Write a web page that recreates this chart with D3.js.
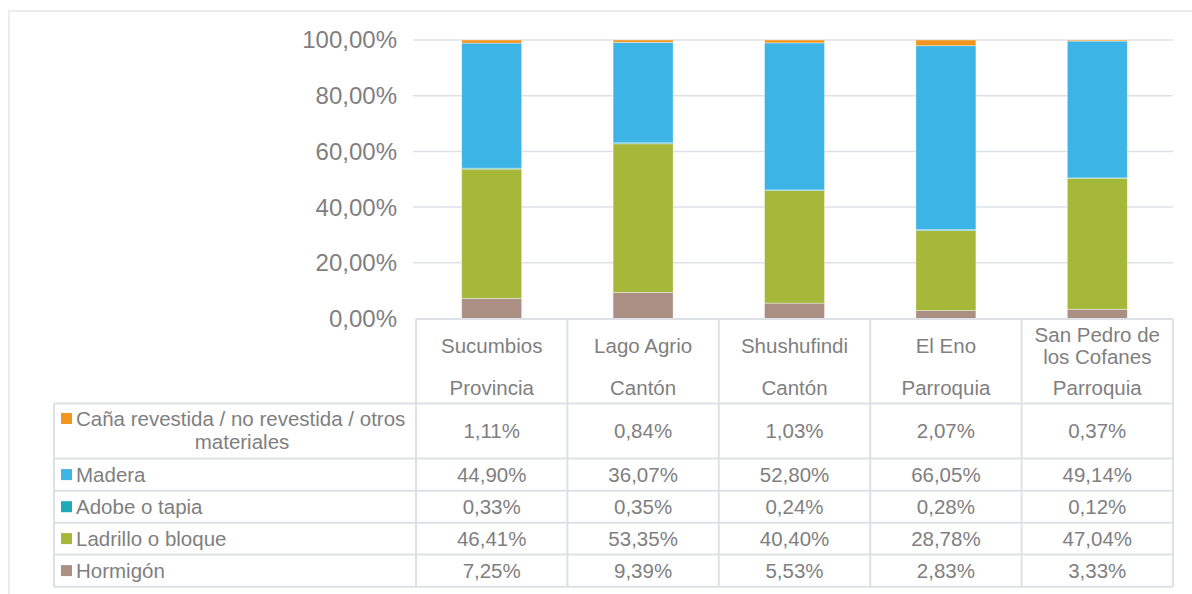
<!DOCTYPE html>
<html><head><meta charset="utf-8">
<script src="https://cdn.jsdelivr.net/npm/d3@7"></script>
<style>
html,body{margin:0;padding:0;background:#fff;}
svg{display:block;font-family:"Liberation Sans",Arial,sans-serif;}
</style></head>
<body>
<svg id="chart" width="1192" height="594"></svg>
<script>
const categories = [["Sucumbios"],["Lago Agrio"],["Shushufindi"],["El Eno"],["San Pedro de","los Cofanes"]];
const subcategories = ["Provincia","Cantón","Cantón","Parroquia","Parroquia"];
const seriesNames = ["Hormigón","Ladrillo o bloque","Adobe o tapia","Madera","Caña revestida / no revestida / otros materiales"];
const hormigon = [7.25, 9.39, 5.53, 2.83, 3.33];
const ladrillo = [46.41, 53.35, 40.40, 28.78, 47.04];
const adobe = [0.33, 0.35, 0.24, 0.28, 0.12];
const madera = [44.90, 36.07, 52.80, 66.05, 49.14];
const cana = [1.11, 0.84, 1.03, 2.07, 0.37];
const yTicks = [0, 20, 40, 60, 80, 100];
const colors = ["#AB8F84","#A6B83A","#1FAAB5","#3DB4E6","#F3961F"];

const series = [hormigon, ladrillo, adobe, madera, cana];
const svg = d3.select("#chart");
const textColor = "#7f7f7f";
const lineColor = "#dde1e6";
const tfs = 20.5;

// outer border
svg.append("rect").attr("x",9).attr("y",11).attr("width",1200).attr("height",600)
  .attr("fill","none").attr("stroke","#dfe2e5").attr("stroke-width",1.3);

const tableLeft = 416, tableRight = 1173;
const x = d3.scaleBand().domain(d3.range(categories.length)).range([tableLeft, tableRight]).paddingInner(0).paddingOuter(0);
const y = d3.scaleLinear().domain([0,100]).range([318.5, 40]);

// gridlines
svg.append("g").selectAll("line").data(yTicks.filter(t=>t>0)).join("line")
  .attr("x1",413).attr("x2",tableRight).attr("y1",d=>y(d)).attr("y2",d=>y(d))
  .attr("stroke",lineColor).attr("stroke-width",1.5);

// y-axis labels
const fmt = v => d3.format(".2f")(v).replace(".",",") + "%";
svg.append("g").selectAll("text").data(yTicks).join("text")
  .attr("x",397).attr("y",d=>y(d)).attr("dy","0.35em").attr("text-anchor","end")
  .attr("fill",textColor).attr("font-size",24).text(d=>fmt(d));

// stacked bars
const rows = categories.map((c,i)=>{const o={idx:i}; series.forEach((s,k)=>o["s"+k]=s[i]); return o;});
const stack = d3.stack().keys(series.map((s,k)=>"s"+k))(rows);
const barW = 60;
svg.append("g").selectAll("g").data(stack).join("g").attr("fill",(d,k)=>colors[k])
  .selectAll("rect").data(d=>d).join("rect")
  .attr("x",d=>x(d.data.idx)+x.bandwidth()/2-barW/2).attr("width",barW)
  .attr("y",d=>y(d[1])).attr("height",d=>y(d[0])-y(d[1]))
  .attr("stroke","#ffffff").attr("stroke-opacity",0.5).attr("stroke-width",0.75);

// data table
const tg = svg.append("g");
const headerTop = 319;
const rowLines = [403.5, 458.5, 490.7, 522.7, 554.5, 586.7];
const legendLeft = 54;
const lineAttr = sel => sel.attr("stroke",lineColor).attr("stroke-width",2);
lineAttr(tg.append("line").attr("x1",tableLeft).attr("x2",tableRight).attr("y1",headerTop).attr("y2",headerTop));
rowLines.forEach(yy=>lineAttr(tg.append("line").attr("x1",legendLeft).attr("x2",tableRight).attr("y1",yy).attr("y2",yy)));
const colEdges = d3.range(categories.length+1).map(i=> i<categories.length ? x(i) : tableRight);
colEdges.forEach(xx=>lineAttr(tg.append("line").attr("x1",xx).attr("x2",xx).attr("y1",headerTop).attr("y2",rowLines[rowLines.length-1])));
lineAttr(tg.append("line").attr("x1",legendLeft).attr("x2",legendLeft).attr("y1",rowLines[0]).attr("y2",rowLines[rowLines.length-1]));

// header text
categories.forEach((lines,i)=>{
  const cx = x(i)+x.bandwidth()/2;
  const t = tg.append("text").attr("text-anchor","middle").attr("fill",textColor).attr("font-size",tfs);
  if(lines.length===1){
    t.append("tspan").attr("x",cx).attr("y",346).attr("dy","0.35em").text(lines[0]);
  } else {
    t.append("tspan").attr("x",cx).attr("y",335).attr("dy","0.35em").text(lines[0]);
    t.append("tspan").attr("x",cx).attr("y",357).attr("dy","0.35em").text(lines[1]);
  }
  tg.append("text").attr("x",cx).attr("y",388).attr("dy","0.35em").attr("text-anchor","middle")
    .attr("fill",textColor).attr("font-size",tfs).text(subcategories[i]);
});

// table rows (top to bottom: reverse stacking order)
const valFmt = v => d3.format(".2f")(v).replace(".",",") + "%";
const order = [4,3,2,1,0];
order.forEach((k,r)=>{
  const y0 = rowLines[r], y1 = rowLines[r+1], cy = (y0+y1)/2;
  if(k===4){
    tg.append("rect").attr("x",61).attr("y",413).attr("width",11).attr("height",11).attr("fill",colors[k]);
    const t = tg.append("text").attr("fill",textColor).attr("font-size",tfs);
    t.append("tspan").attr("x",76).attr("y",419).attr("dy","0.35em").text("Caña revestida / no revestida / otros");
    t.append("tspan").attr("x",242).attr("y",442).attr("dy","0.35em").attr("text-anchor","middle").text("materiales");
  } else {
    tg.append("rect").attr("x",61).attr("y",cy-5.5).attr("width",11).attr("height",11).attr("fill",colors[k]);
    tg.append("text").attr("x",76).attr("y",cy).attr("dy","0.35em").attr("fill",textColor).attr("font-size",tfs).text(seriesNames[k]);
  }
  series[k].forEach((v,i)=>{
    tg.append("text").attr("x",x(i)+x.bandwidth()/2).attr("y",cy).attr("dy","0.35em")
      .attr("text-anchor","middle").attr("fill",textColor).attr("font-size",tfs).text(valFmt(v));
  });
});
</script>
</body></html>
